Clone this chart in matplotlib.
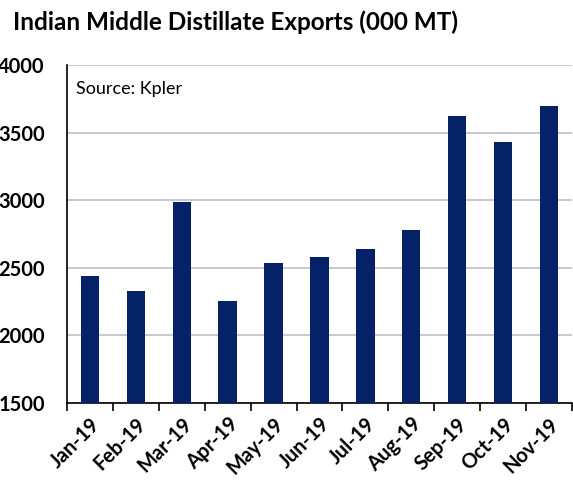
import numpy as np
import matplotlib.pyplot as plt

# Datos (000 MT)
months = ['Jan-19', 'Feb-19', 'Mar-19', 'Apr-19', 'May-19', 'Jun-19',
          'Jul-19', 'Aug-19', 'Sep-19', 'Oct-19', 'Nov-19']
exports = [2440, 2330, 2990, 2255, 2535, 2580, 2640, 2780, 3620, 3430, 3700]
y_ticks = [1500, 2000, 2500, 3000, 3500, 4000]

plt.rcParams['font.family'] = ['Lato', 'DejaVu Sans']

fig = plt.figure(figsize=(5.73, 4.8), dpi=100)
ax = fig.add_axes([0.117, 0.1604, 0.881, 0.7042])

x = np.arange(len(months))
ax.bar(x, exports, width=0.4, color='#052269', zorder=3)

# Ejes
ax.set_ylim(1500, 4000)
ax.set_xlim(-0.5, len(months) - 0.5)
ax.set_yticks(y_ticks)
ax.set_yticklabels([str(v) for v in y_ticks], fontsize=14.5, fontweight='bold')
ax.tick_params(axis='y', length=0, pad=16)
ax.grid(axis='y', color='#c4bcc8', linewidth=1.2, zorder=0)

ax.set_xticks(x)
ax.set_xticklabels(months, rotation=45, ha='right', rotation_mode='anchor',
                   fontsize=14.5, fontweight='bold')
ax.tick_params(axis='x', which='major', length=0, pad=8)
ax.set_xticks(np.arange(len(months) + 1) - 0.5, minor=True)
ax.tick_params(axis='x', which='minor', length=6, width=1.2, color='black')

for s in ['top', 'right']:
    ax.spines[s].set_visible(False)
ax.spines['left'].set_linewidth(1.2)
ax.spines['bottom'].set_linewidth(1.2)

ax.text(0.018, 0.93, 'Source: Kpler', transform=ax.transAxes, fontsize=13,
        va='center', ha='left')

fig.text(0.023, 0.953, 'Indian Middle Distillate Exports (000 MT)',
         fontsize=17.5, fontweight='bold', va='center', ha='left')

fig.savefig('out.png', dpi=100)
